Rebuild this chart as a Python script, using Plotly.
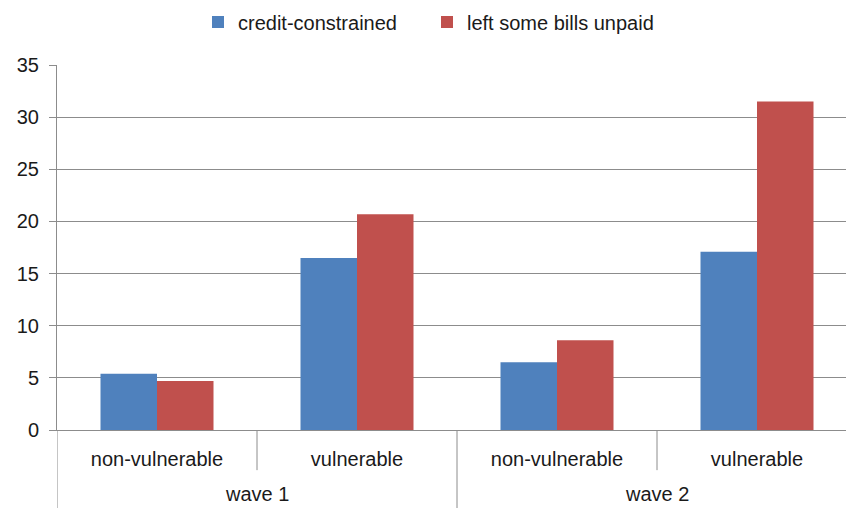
import plotly.graph_objects as go

# Survey groups and series values (%)
waves = ["wave 1", "wave 2"]
groups = ["non-vulnerable", "vulnerable"]
credit_constrained = [5.4, 16.5, 6.5, 17.1]
bills_unpaid = [4.7, 20.7, 8.6, 31.5]

labels = [g for _ in waves for g in groups]
xpos = list(range(len(labels)))

BLUE = "#4F81BD"
RED = "#C0504D"
GRID = "#8c8c8c"
TEXT = "#1a1a1a"
FONT = "Liberation Sans, Arial, sans-serif"
FS = 20

fig = go.Figure()
fig.add_trace(go.Bar(x=xpos, y=credit_constrained, name="credit-constrained",
                     marker=dict(color=BLUE, line=dict(width=0))))
fig.add_trace(go.Bar(x=xpos, y=bills_unpaid, name="left some bills unpaid",
                     marker=dict(color=RED, line=dict(width=0))))

n = len(labels)
per_wave = len(groups)

# Divider lines below the category axis
shapes = []
for b in range(n):
    x = b - 0.5
    long_line = (b % per_wave == 0)
    shapes.append(dict(type="line", xref="x", yref="paper",
                       x0=x, x1=x, y0=0, y1=-0.22 if long_line else -0.11,
                       line=dict(color=GRID, width=1)))

# Wave labels centred under each pair of groups
annotations = []
for i, w in enumerate(waves):
    annotations.append(dict(text=w, xref="x", yref="paper",
                            x=i * per_wave + (per_wave - 1) / 2, y=-0.176,
                            yanchor="middle", showarrow=False,
                            font=dict(size=FS, color=TEXT, family=FONT)))

fig.update_layout(
    width=846, height=508,
    margin=dict(l=57, r=0, t=65, b=78, autoexpand=False),
    paper_bgcolor="white", plot_bgcolor="white",
    font=dict(family=FONT, size=FS, color=TEXT),
    barmode="group", bargap=0.435, bargroupgap=0,
    showlegend=True,
    legend=dict(orientation="h", xref="container", x=198 / 846, xanchor="left",
                yref="container", y=1 - 22 / 508, yanchor="middle",
                font=dict(size=FS, color=TEXT), itemwidth=30,
                entrywidth=184, entrywidthmode="pixels",
                traceorder="normal"),
    shapes=shapes, annotations=annotations,
)
fig.update_xaxes(
    range=[-0.5, n - 0.5 - 11 / 200],
    tickvals=xpos, ticktext=labels, ticks="", ticklabelstandoff=11,
    showline=True, linecolor=GRID, linewidth=1, showgrid=False, zeroline=False,
    tickfont=dict(size=FS, color=TEXT),
)
fig.update_yaxes(
    range=[0, 35], dtick=5, tick0=0,
    showgrid=True, gridcolor=GRID, gridwidth=1,
    showline=True, linecolor=GRID, linewidth=1,
    ticks="outside", ticklen=7, tickcolor=GRID, ticklabelstandoff=6,
    zeroline=False, tickfont=dict(size=FS, color=TEXT),
)

fig.write_html("out.html")
